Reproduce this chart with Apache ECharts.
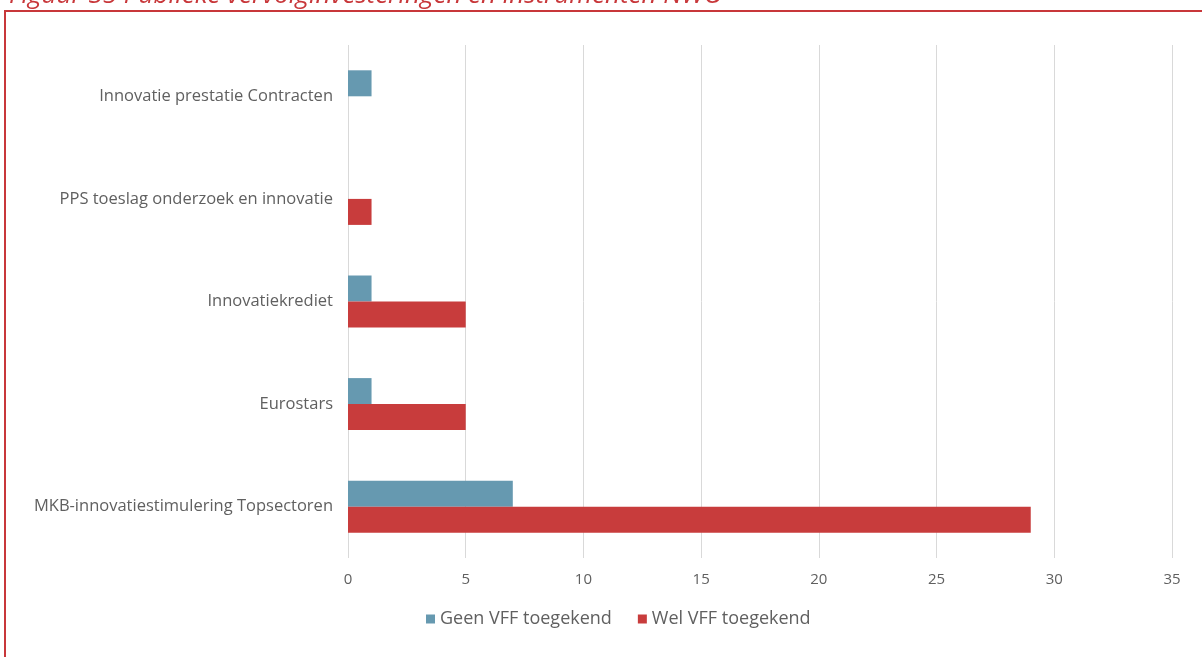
<!DOCTYPE html>
<html>
<head>
<meta charset="utf-8">
<script src="https://cdn.jsdelivr.net/npm/echarts@6/dist/echarts.min.js"></script>
<style>
  html, body { margin: 0; padding: 0; background: #fff; }
  #box { width: 1202px; height: 657px; }
</style>
</head>
<body>
<div id="box"></div>
<script>
// categories (bottom to top, as echarts draws a y category axis)
var categories = ['MKB-innovatiestimulering Topsectoren', 'Eurostars', 'Innovatiekrediet',
    'PPS toeslag onderzoek en innovatie', 'Innovatie prestatie Contracten'];
var geenVFF = [7, 1, 1, null, 1];
var welVFF = [29, 5, 5, 1, null];
var xTicks = [0, 5, 10, 15, 20, 25, 30, 35];

var myChart = echarts.init(document.getElementById('box'));

var labelFont = '"Open Sans", sans-serif';

var option = {
    animation: false,
    title: {
        text: 'Figuur 35 Publieke vervolginvesteringen en instrumenten NWO',
        left: 4,
        top: -22,
        textStyle: {
            color: '#C8373A',
            fontStyle: 'italic',
            fontWeight: 'normal',
            fontSize: 26,
            fontFamily: labelFont
        }
    },
    graphic: [{
        type: 'rect',
        shape: { x: 5, y: 11, width: 1210, height: 660 },
        style: { fill: 'none', stroke: '#C8373A', lineWidth: 2 }
    }],
    grid: {
        left: 348,
        right: 30,
        top: 45,
        bottom: 99
    },
    legend: {
        data: ['Geen VFF toegekend', 'Wel VFF toegekend'],
        top: 605,
        left: 421,
        itemWidth: 9,
        itemHeight: 9,
        itemGap: 26,
        icon: 'rect',
        textStyle: { color: '#606060', fontSize: 18, fontFamily: labelFont }
    },
    xAxis: {
        type: 'value',
        min: xTicks[0],
        max: xTicks[xTicks.length - 1],
        interval: 5,
        axisLine: { show: false },
        axisTick: { show: false },
        splitLine: { lineStyle: { color: '#d9d9d9', width: 1 } },
        axisLabel: { color: '#606060', fontSize: 15, margin: 14, fontFamily: labelFont }
    },
    yAxis: {
        type: 'category',
        data: categories,
        axisLine: { show: false },
        axisTick: { show: false },
        axisLabel: { color: '#606060', fontSize: 16.5, margin: 15, fontFamily: labelFont }
    },
    series: [{
        name: 'Geen VFF toegekend',
        type: 'bar',
        data: geenVFF,
        barWidth: 26,
        barGap: 0,
        itemStyle: { color: '#6699B0' }
    }, {
        name: 'Wel VFF toegekend',
        type: 'bar',
        data: welVFF,
        barWidth: 26,
        barGap: 0,
        itemStyle: { color: '#C83C3C' }
    }]
};

myChart.setOption(option);
</script>
</body>
</html>
